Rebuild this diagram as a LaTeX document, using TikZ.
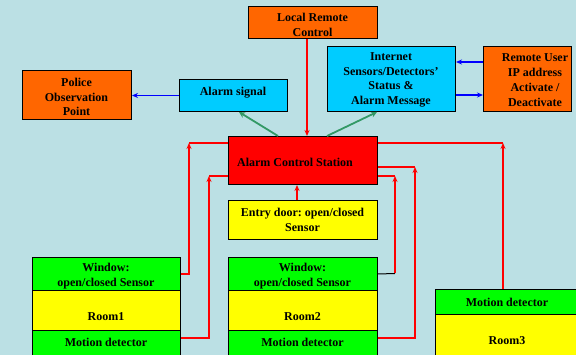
\documentclass[tikz,border=0pt]{standalone}
\usepackage{fontspec}
\setmainfont{Liberation Serif}
\frenchspacing
\usetikzlibrary{arrows.meta}
\definecolor{bg}{RGB}{187,224,228}
\definecolor{orng}{RGB}{255,102,0}
\definecolor{cyanb}{RGB}{0,204,255}
\definecolor{redb}{RGB}{255,0,0}
\definecolor{yel}{RGB}{255,255,0}
\definecolor{grn}{RGB}{0,255,0}
\definecolor{garrow}{RGB}{51,153,102}
\definecolor{barrow}{RGB}{0,0,255}
\tikzset{
  box/.style={draw=black, line width=1pt, anchor=north west, inner sep=0pt, align=center,
    font=\bfseries\fontsize{12}{14.5}\selectfont},
  txt/.style={inner sep=0pt, align=center, font=\bfseries\fontsize{12}{15.5}\selectfont},
  redline/.style={draw=redb, line width=2pt},
  redarr/.style={redline, -{Stealth[length=6pt,width=5pt]}},
  grnarr/.style={draw=garrow, line width=1.8pt, -{Stealth[length=6pt,width=6pt]}},
  bluarr/.style={draw=barrow, line width=1.8pt, -{Stealth[length=6pt,width=5pt]}},
  blkline/.style={draw=black, line width=1pt}
}
\begin{document}
\begin{tikzpicture}[x=1pt,y=-1pt]
\useasboundingbox (0,0) rectangle (576,355);
\clip (0,0) rectangle (576,355);
\fill[bg] (0,0) rectangle (576,355);

% top boxes
\node[box, fill=orng, minimum width=129pt, minimum height=32pt] (lrc) at (248,6) {};
\node[txt] at (312.5,25) {Local Remote\\Control};
\node[box, fill=orng, minimum width=109pt, minimum height=49pt] (police) at (22,70) {};
\node[txt, font=\bfseries\fontsize{12}{14.5}\selectfont] at (76.5,97) {Police\\Observation\\Point};
\node[box, fill=cyanb, minimum width=108pt, minimum height=32pt] (alarm) at (179,79) {};
\node[txt] at (233,93) {Alarm signal};
\node[box, fill=cyanb, minimum width=128pt, minimum height=65pt] (inet) at (327,46) {};
\node[txt, font=\bfseries\fontsize{12}{14.6}\selectfont] at (391,80) {Internet\\Sensors/Detectors'\\Status \&\\Alarm Message};
\node[box, fill=orng, minimum width=88pt, minimum height=65pt] (ruser) at (483,46) {};
\node[txt, font=\bfseries\fontsize{12}{14.8}\selectfont] at (535,80) {Remote User\\IP address\\Activate /\\Deactivate};

% control station
\node[box, fill=redb, minimum width=149pt, minimum height=48pt] (acs) at (228,136) {};
\node[txt] at (295,162) {Alarm Control Station};
\node[box, fill=yel, minimum width=149pt, minimum height=39pt] (entry) at (228,200) {};
\node[txt, font=\bfseries\fontsize{12}{14.5}\selectfont] at (302.5,220) {Entry door: open/closed\\Sensor};

% room 1
\node[box, fill=grn, minimum width=148pt, minimum height=33pt] (r1win) at (32,257) {};
\node[box, fill=yel, minimum width=148pt, minimum height=40pt] (r1room) at (32,290) {};
\node[box, fill=grn, minimum width=148pt, minimum height=30pt] (r1mot) at (32,330) {};
\node[txt] at (106,276) {Window:\\open/closed Sensor};
\node[txt] at (106,317) {Room1};
\node[txt] at (106,342) {Motion detector};

% room 2
\node[box, fill=grn, minimum width=149pt, minimum height=33pt] (r2win) at (228,257) {};
\node[box, fill=yel, minimum width=149pt, minimum height=40pt] (r2room) at (228,290) {};
\node[box, fill=grn, minimum width=149pt, minimum height=30pt] (r2mot) at (228,330) {};
\node[txt] at (302.5,276) {Window:\\open/closed Sensor};
\node[txt] at (302.5,317) {Room2};
\node[txt] at (302.5,342) {Motion detector};

% room 3
\node[box, fill=grn, minimum width=150pt, minimum height=25pt] (r3mot) at (435,289) {};
\node[box, fill=yel, minimum width=150pt, minimum height=50pt] (r3room) at (435,314) {};
\node[txt] at (507,302) {Motion detector};
\node[txt] at (507,341) {Room3};

% corner coordinates
\coordinate (c1) at (189,143);
\coordinate (c2) at (209,176);
\coordinate (c3) at (395,176);
\coordinate (c4) at (415,167);
\coordinate (c5) at (503,143);
\coordinate (w2) at (395,273.5);

% top arrows
\draw[redarr] (lrc.south -| 307,0) -- (acs.north -| 307,0);
\draw[grnarr] (acs.north -| 278,0) -- (alarm.south -| 239,0);
\draw[grnarr] (acs.north -| 327,0) -- (inet.south -| 377,0);
\draw[bluarr] (alarm.west) -- (police.east |- alarm.west);
\draw[bluarr] (ruser.west |- 0,62) -- (inet.east |- 0,62);
\draw[bluarr] (inet.east |- 0,95) -- (ruser.west |- 0,95);
\draw[redarr] (entry.north -| 297,0) -- (acs.south -| 297,0);

% left connectors
\draw[redarr] (r1win.east) -| (c1);
\draw[redline] (c1) -- (acs.west |- c1);
\draw[redarr] (r1mot.east |- 0,338) -| (c2);
\draw[redline] (c2) -- (acs.west |- c2);

% right connectors
\draw[blkline] (r2win.east) -- (w2);
\draw[redarr] (w2) -- (c3);
\draw[redline] (c3) -- (acs.east |- c3);
\draw[redarr] (r2mot.east |- 0,338) -| (c4);
\draw[redline] (c4) -- (acs.east |- c4);
\draw[redarr] (r3mot.north -| c5) -- (c5);
\draw[redline] (c5) -- (acs.east |- c5);
\end{tikzpicture}
\end{document}
